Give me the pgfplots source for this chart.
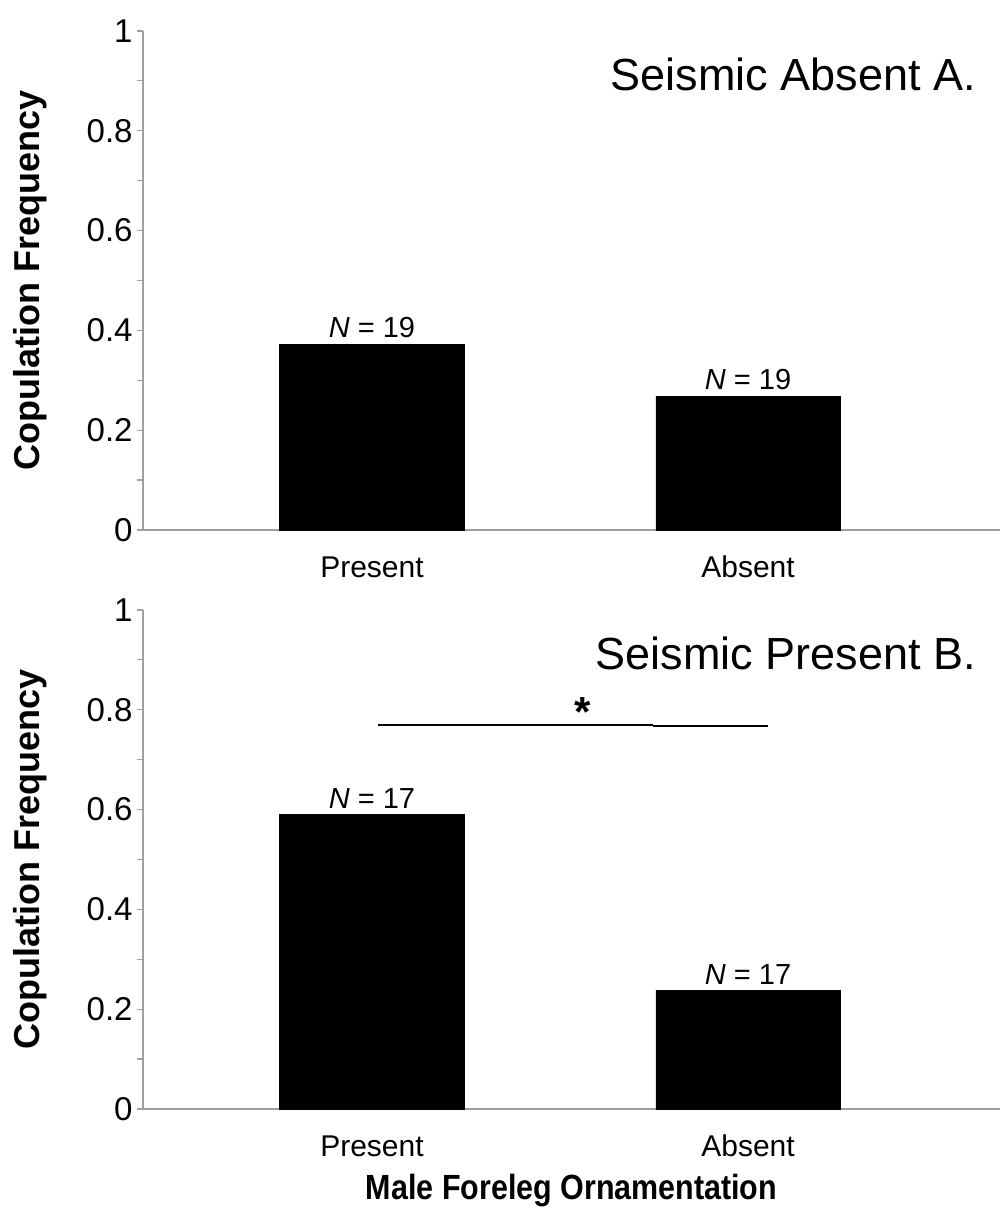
\documentclass[border=0pt]{standalone}
\usepackage{fontspec}
\setmainfont{Liberation Sans}
\newfontfamily\xlabfont{Liberation Sans}[FakeStretch=0.87]
\usepackage{pgfplots}
\pgfplotsset{compat=1.18}

% one panel of the figure: two black bars, grey left/bottom axis lines
\pgfplotsset{
  panel/.style={
    scale only axis, width=428.5pt, height=249.5pt,
    xmin=-0.609, xmax=1.67, ymin=0, ymax=1,
    axis lines*=left,
    axis line style={draw=gray!75, line width=0.7pt},
    ytick={0,0.2,0.4,0.6,0.8,1},
    yticklabels={0,0.2,0.4,0.6,0.8,1},
    minor ytick={0.1,0.3,0.5,0.7,0.9},
    tick align=outside,
    major tick length=3pt, minor tick length=3pt,
    ytick style={draw=gray!75, line width=0.6pt},
    xtick={0,1}, xticklabels={Present,Absent},
    xtick style={draw=none},
    yticklabel style={font=\fontsize{16.5}{18}\selectfont, inner sep=2pt},
    xticklabel style={font=\fontsize{15}{18}\selectfont, yshift=-8pt,
      text height=1.75ex, text depth=0.3ex},
    /pgf/number format/assume math mode=true,
    ylabel={\bfseries Copulation Frequency},
    ylabel style={at={(axis description cs:-0.1318,0.5)}, anchor=center,
      font=\fontsize{18}{21}\selectfont},
    clip=false,
  },
  nbar/.style={ybar, bar width=0.49, fill=black, draw=black,
    point meta=explicit symbolic,
    nodes near coords={\textit{N} = \pgfplotspointmeta},
    every node near coord/.append style={font=\fontsize{14.5}{16}\selectfont,
      inner sep=3pt, anchor=south}},
}

\begin{document}
\begin{tikzpicture}
\useasboundingbox (0,0) rectangle (500.5pt,610.5pt);

% A. seismic signal absent
\begin{axis}[panel, at={(71.5pt,345.5pt)}, anchor=south west]
\addplot[nbar] coordinates {(0,0.372)[19] (1,0.268)[19]};
\node[anchor=east, font=\fontsize{22.5}{26}\selectfont]
  at (rel axis cs:0.98,0.912) {Seismic Absent A.};
\end{axis}

% B. seismic signal present
\begin{axis}[panel, at={(71.5pt,56pt)}, anchor=south west,
  xlabel={\xlabfont\bfseries Male Foreleg Ornamentation},
  xlabel style={at={(axis description cs:0.5,0)}, anchor=center,
    yshift=-41pt, font=\fontsize{17.5}{20}\selectfont}]
\addplot[nbar] coordinates {(0,0.590)[17] (1,0.237)[17]};
\addplot[black, line width=0.9pt, no marks] coordinates {(0.016,0.769) (0.747,0.769)};
\addplot[black, line width=0.9pt, no marks] coordinates {(0.747,0.767) (1.053,0.767)};
\node[font=\bfseries\fontsize{21}{22}\selectfont] at (axis cs:0.561,0.795) {*};
\node[anchor=east, font=\fontsize{22.5}{26}\selectfont]
  at (rel axis cs:0.98,0.912) {Seismic Present B.};
\end{axis}
\end{tikzpicture}
\end{document}
